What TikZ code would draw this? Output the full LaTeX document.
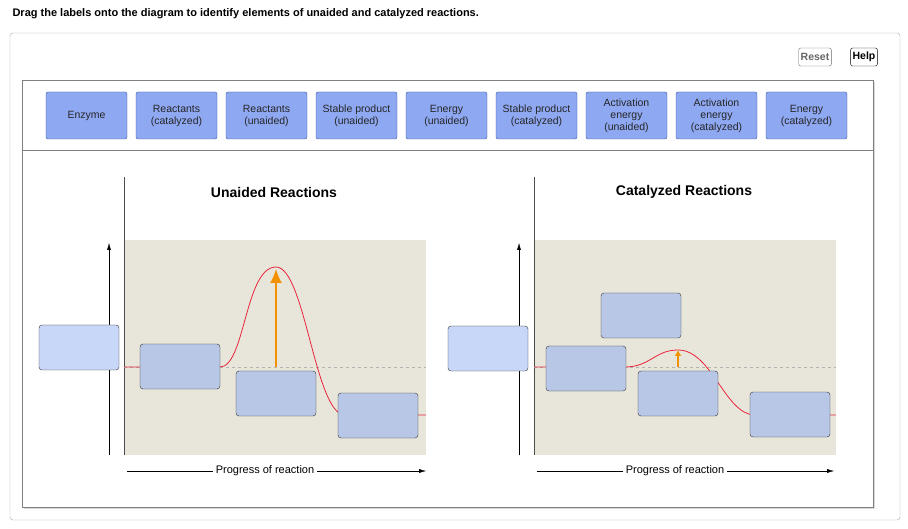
\documentclass[tikz,border=0pt]{standalone}
\usepackage{fontspec}
\setmainfont{Liberation Sans}
\usetikzlibrary{arrows.meta,shadows}
\definecolor{lblfill}{HTML}{8EA8F2}
\definecolor{lbldraw}{HTML}{3B55A0}
\definecolor{slotfill}{HTML}{B8C7E6}
\definecolor{sidefill}{HTML}{C8D6F8}
\definecolor{plotbg}{HTML}{E8E6DB}
\definecolor{curve}{HTML}{E8253A}
\definecolor{orng}{HTML}{F39200}
\tikzset{
	every picture/.style={>=latex},
	lbl/.style={rectangle, rounded corners=2pt, draw=lbldraw, fill=lblfill, minimum width=81pt, minimum height=47pt, align=center, text=black!85, font=\fontsize{10.5}{12}\selectfont},
	slot/.style={rectangle, rounded corners=3pt, draw=black!80, fill=slotfill, minimum width=80pt, minimum height=45pt},
	side/.style={slot, fill=sidefill},
	btn/.style={rectangle, rounded corners=2pt, draw=black!60, fill=white, font=\bfseries\fontsize{10.5}{12}\selectfont, inner sep=2pt, minimum height=18pt},
	ttl/.style={font=\bfseries\fontsize{14}{16}\selectfont},
	axis/.style={-{Latex[length=7pt,width=4pt]}, black},
	hint/.style={font=\fontsize{11}{13}\selectfont, fill=white, inner sep=3pt}
}
\begin{document}
\begin{tikzpicture}[x=1pt,y=-1pt]
\useasboundingbox (0,0) rectangle (908,529);
\node[anchor=west, font=\bfseries\fontsize{11}{13}\selectfont] (head) at (9,14) {Drag the labels onto the diagram to identify elements of unaided and catalyzed reactions.};
\draw[black!35, rounded corners=3pt] (10,33) rectangle (900,520);
\node[btn, text=black!60] (reset) at (815,57) {Reset};
\node[btn, draw=black] (help) at (864,57) {Help};
\draw[black!50, fill=white, drop shadow={shadow xshift=2pt, shadow yshift=-2pt, opacity=.3}] (22,80) rectangle (873,507);
\draw[black!50] (22,150) -- (873,150);
% labels
\foreach \t [count=\i from 0] in {Enzyme, Reactants\\(catalyzed), Reactants\\(unaided), Stable product\\(unaided), Energy\\(unaided), Stable product\\(catalyzed), Activation\\energy\\(unaided), Activation\\energy\\(catalyzed), Energy\\(catalyzed)}
	\node[lbl] (l\i) at (86.5+90*\i,115.5) {\t};
% unaided
\fill[plotbg] (124,240) rectangle (426,455);
\draw[black!70] (124,177) -- (124,455);
\node[ttl] (t1) at (274,192) {Unaided Reactions};
\coordinate (y1a) at (109,455); \coordinate (y1b) at (109,243);
\draw[axis] (y1a) -- (y1b);
\node[hint] (x1) at (265,471) {Progress of reaction};
\coordinate (x1a) at (127,471); \coordinate (x1b) at (426,471);
\draw (x1a) -- (x1.west); \draw[axis] (x1.east) -- (x1b);
\draw[black!30, dashed] (124,367) -- (426,367);
\draw[curve, thick] (124,367) -- (220,367) .. controls (245,367) and (245,267) .. (276,267) .. controls (305,267) and (315,415) .. (345,415) -- (426,415);
\coordinate (o1) at (276,367); \coordinate (p1) at (276,269);
\draw[orng, line width=1.8pt, -{Latex[length=14pt,width=12pt]}] (o1) -- (p1);
\node[slot] (r1) at (180,366.5) {};
\node[slot] (s1) at (276,393.5) {};
\node[slot] (u1) at (378,415.5) {};
\node[side] (e1) at (79,347.5) {};
% catalyzed
\fill[plotbg] (534,240) rectangle (836,455);
\draw[black!70] (534,177) -- (534,455);
\node[ttl] (t2) at (684,192) {Catalyzed Reactions};
\coordinate (y2a) at (519,455); \coordinate (y2b) at (519,243);
\draw[axis] (y2a) -- (y2b);
\node[hint] (x2) at (675,471) {Progress of reaction};
\coordinate (x2a) at (537,471); \coordinate (x2b) at (834,471);
\draw (x2a) -- (x2.west); \draw[axis] (x2.east) -- (x2b);
\draw[black!30, dashed] (534,367) -- (836,367);
\draw[curve, thick] (534,367) -- (625,367) .. controls (650,367) and (655,350) .. (678,350) .. controls (712,350) and (725,415) .. (755,415) -- (836,415);
\coordinate (o2) at (678,367); \coordinate (p2) at (678,350);
\draw[orng, line width=1.5pt, -{Latex[length=6pt,width=7pt]}] (o2) -- (p2);
\node[slot] (a2) at (641,315.5) {};
\node[slot] (r2) at (586,368.5) {};
\node[slot] (s2) at (678,393.5) {};
\node[slot] (u2) at (790,414.5) {};
\node[side] (e2) at (488,348.5) {};
\end{tikzpicture}
\end{document}
